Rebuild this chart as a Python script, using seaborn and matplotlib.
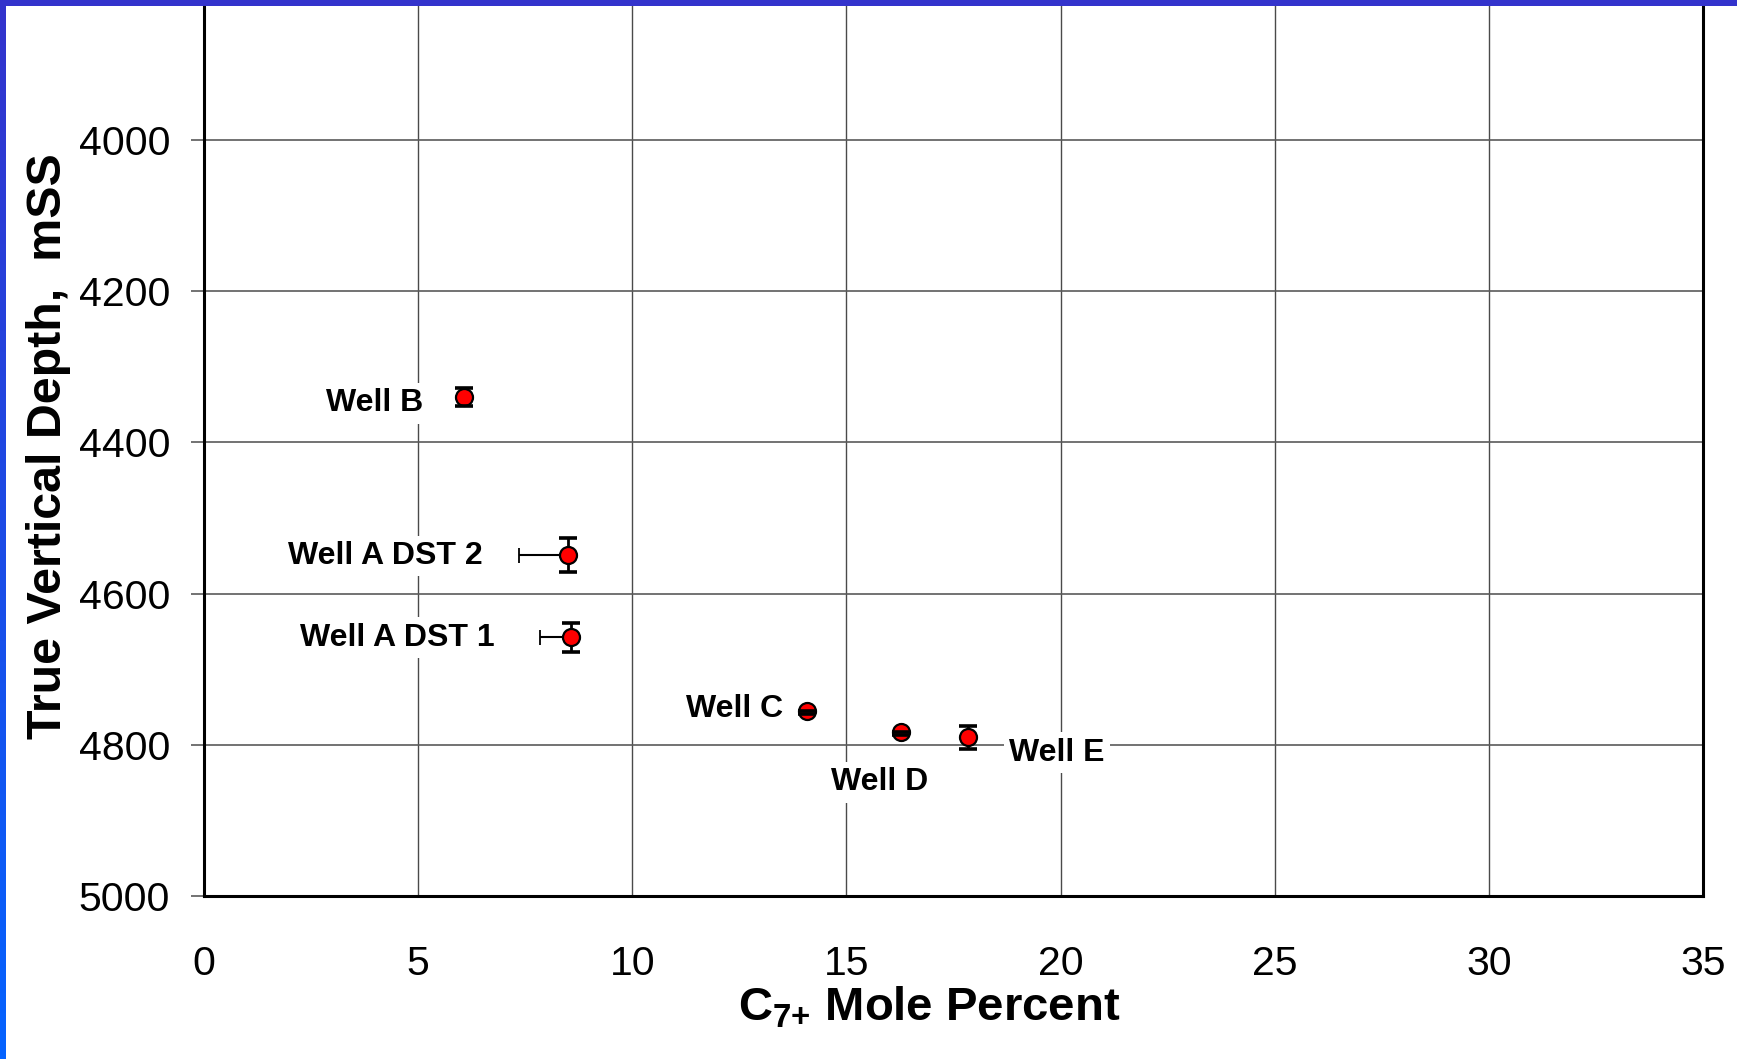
import numpy as np
import pandas as pd
import matplotlib
matplotlib.use("Agg")
import matplotlib.pyplot as plt
from matplotlib.colors import LinearSegmentedColormap
from matplotlib.patches import Rectangle
import seaborn as sns

# ---------------- data ----------------
wells = ["Well B", "Well A DST 2", "Well A DST 1", "Well C", "Well D", "Well E"]
c7_mole_pct = [6.08, 8.51, 8.57, 14.08, 16.28, 17.85]
tvd_mss = [4340, 4549, 4658, 4755, 4783, 4790]
tvd_err_shallow = [12, 23, 19, 0, 0, 15]
tvd_err_deep = [12, 23, 19, 4.5, 4.5, 15]
c7_err_low = [0, 1.15, 0.72, 0, 0, 0]
c7_err_high = [0, 0, 0, 0, 0, 0]

x_ticks = [0, 5, 10, 15, 20, 25, 30, 35]
y_ticks = [4000, 4200, 4400, 4600, 4800, 5000]

# label anchors (layout)
label_x = [5.11, 6.50, 6.78, 13.53, 15.78, 19.91]
label_y = [4359, 4561, 4669, 4763, 4860, 4821]
label_ha = ["right", "right", "right", "right", "center", "center"]

df = pd.DataFrame({"well": wells, "c7": c7_mole_pct, "tvd": tvd_mss})

# ---------------- style ----------------
sns.set_theme(style="white")
plt.rcParams["font.family"] = ["Liberation Sans", "DejaVu Sans"]
plt.rcParams["text.color"] = "black"
plt.rcParams["axes.labelcolor"] = "black"
plt.rcParams["xtick.color"] = "black"
plt.rcParams["ytick.color"] = "black"
plt.rcParams["mathtext.fontset"] = "custom"
plt.rcParams["mathtext.rm"] = "Liberation Sans"
plt.rcParams["mathtext.bf"] = "Liberation Sans:bold"
plt.rcParams["mathtext.it"] = "Liberation Sans:italic"

W, H = 1737, 1059
fig = plt.figure(figsize=(W / 100, H / 100), dpi=100)
fig.patch.set_facecolor("white")

ax_left = 204 / W
ax_bottom = (H - 896.2) / H
ax_w = 1499 / W
ax_h = (896.2 + 11.7) / H
ax = fig.add_axes([ax_left, ax_bottom, ax_w, ax_h])

ax.set_xlim(0, 35)
ax.set_ylim(5000, 3800)

# grid
for xv in x_ticks[1:-1]:
    ax.axvline(xv, color="#4a4a4a", lw=1.0, zorder=0.5)
for yv in y_ticks[:-1]:
    ax.axhline(yv, color="#5a5a5a", lw=1.2, zorder=0.5)

# error bars: stems under markers
ax.errorbar(df["c7"], df["tvd"], yerr=[tvd_err_shallow, tvd_err_deep],
            fmt="none", ecolor="black", elinewidth=2.0, capsize=0, zorder=2)
ax.errorbar(df["c7"], df["tvd"], xerr=[c7_err_low, c7_err_high],
            fmt="none", ecolor="black", elinewidth=1.5, capsize=5.4,
            capthick=1.3, zorder=2)

# markers
sns.scatterplot(data=df, x="c7", y="tvd", ax=ax, s=150, color="#ff0000",
                edgecolor="black", linewidth=1.6, zorder=3, legend=False)

# thick caps drawn over markers
ax.errorbar(df["c7"], df["tvd"], yerr=[tvd_err_shallow, tvd_err_deep],
            fmt="none", ecolor="black", elinewidth=0, capsize=6.2,
            capthick=2.6, zorder=4)

# labels
for name, lx, ly, ha in zip(wells, label_x, label_y, label_ha):
    ax.text(lx, ly, name, ha=ha, va="baseline", fontsize=23, fontweight="bold",
            color="black", zorder=2.5,
            bbox=dict(facecolor="white", edgecolor="none", pad=4))

# axes styling
ax.set_xticks(x_ticks)
ax.set_yticks(y_ticks)
ax.set_xticklabels([str(v) for v in x_ticks])
ax.set_yticklabels([str(v) for v in y_ticks])
ax.tick_params(axis="y", which="both", left=True, length=9.4, width=1.2,
               color="#5a5a5a", pad=15, labelsize=29.5, labelcolor="black")
ax.tick_params(axis="x", which="both", bottom=True, length=0, pad=35,
               labelsize=29.5, labelcolor="black")
for side in ["left", "bottom", "right"]:
    ax.spines[side].set_visible(True)
    ax.spines[side].set_color("black")
    ax.spines[side].set_linewidth(2.2)
ax.spines["top"].set_visible(False)

ax.set_xlabel(r"$\mathbf{C_{7{+}}}$ Mole Percent", fontsize=34,
              fontweight="bold", color="black")
ax.xaxis.label.set_va("baseline")
ax.xaxis.set_label_coords(0.4837, (896.2 - 1020.7) / (896.2 + 11.7))
ax.set_ylabel("True Vertical Depth,  mSS", fontsize=34.8, fontweight="bold",
              color="black")
ax.yaxis.label.set_va("center")
ax.yaxis.set_label_coords((49 - 204) / 1499, 0.496)

# decorative blue frame strips
cmap = LinearSegmentedColormap.from_list("frame", ["#3333cc", "#0563ff"])
strip = fig.add_axes([0, 0, 6 / W, 1])
strip.imshow(np.linspace(0, 1, 256).reshape(-1, 1), aspect="auto", cmap=cmap)
strip.set_axis_off()
fig.patches.append(Rectangle((0, 1 - 6 / H), 1, 6 / H, transform=fig.transFigure,
                             facecolor="#3333cc", edgecolor="none", zorder=10))

fig.savefig("out.png", dpi=100, facecolor="white")
